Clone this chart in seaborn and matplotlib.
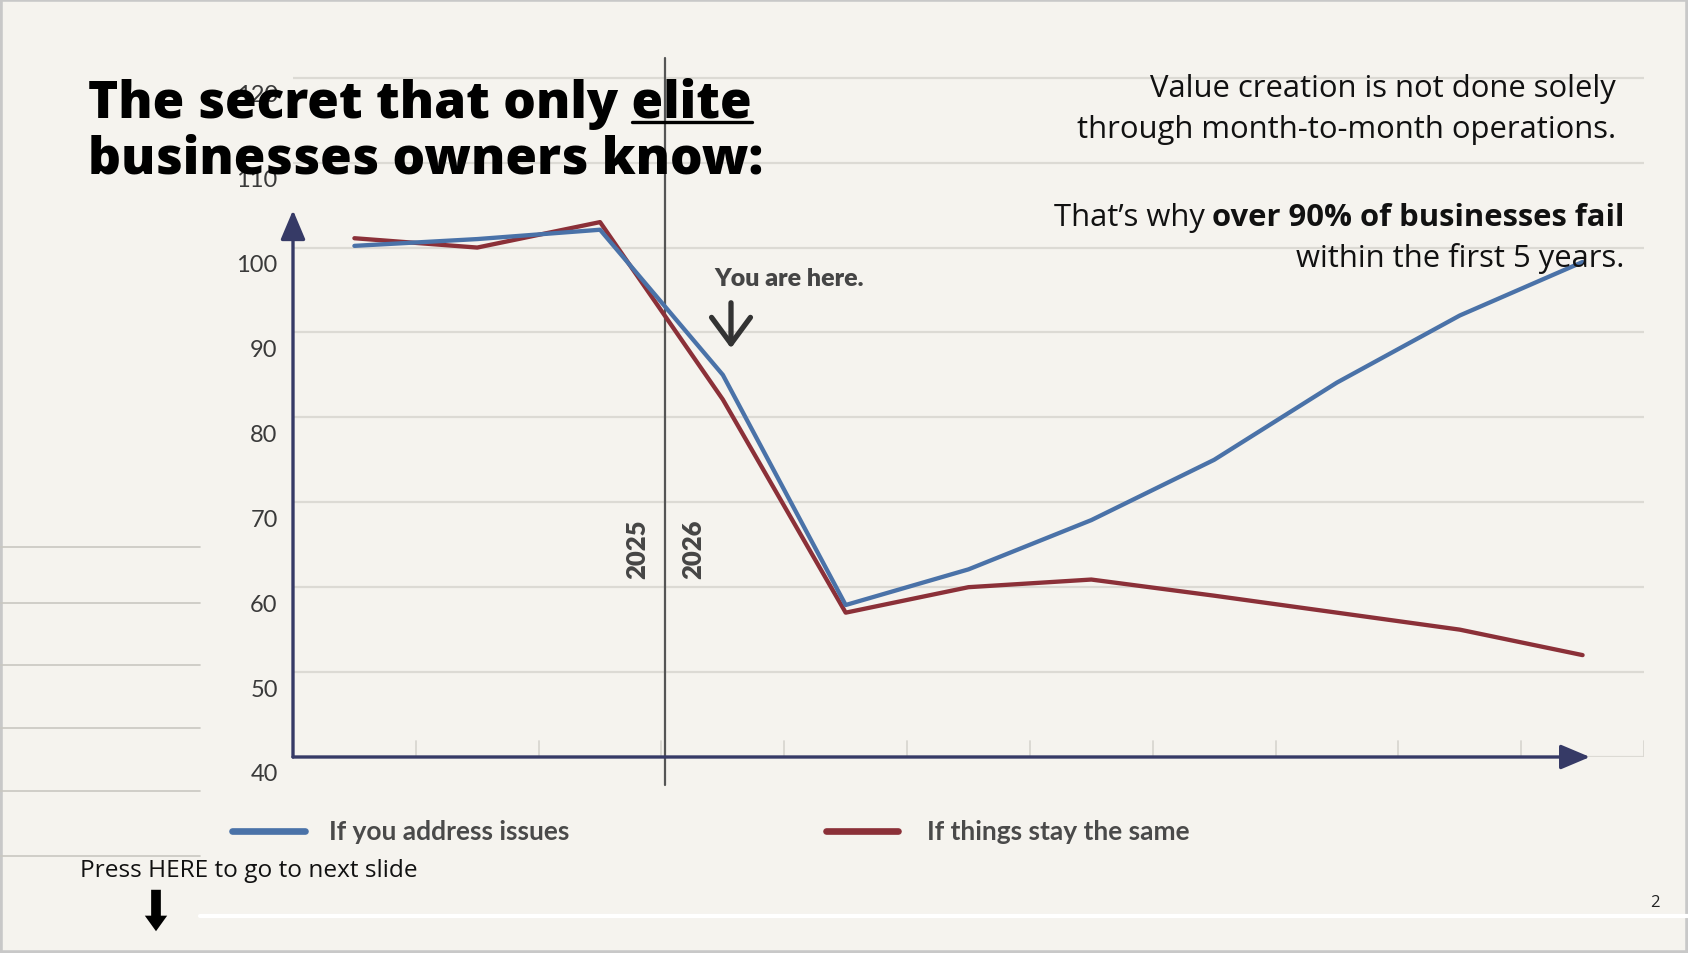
import matplotlib
matplotlib.use("Agg")
import matplotlib.pyplot as plt
from matplotlib.lines import Line2D
from matplotlib.patches import Rectangle, FancyArrowPatch
from matplotlib.transforms import ScaledTranslation
import pandas as pd
import seaborn as sns

# %% data
periods = list(range(11))
address_issues = [100.2, 101.0, 102.1, 85.0, 57.9, 62.1, 67.9, 75.0, 84.1, 92.0, 98.3]
stay_same = [101.1, 100.0, 103.0, 82.1, 57.0, 60.0, 60.9, 59.0, 57.0, 55.0, 52.0]
series_names = ["If you address issues", "If things stay the same"]
series_colors = ["#4a72a8", "#8b3038"]
y_ticks = [40, 50, 60, 70, 80, 90, 100, 110, 120]
year_labels = ["2025", "2026"]

df = pd.DataFrame({
    "period": periods * 2,
    "value": address_issues + stay_same,
    "scenario": [series_names[0]] * len(periods) + [series_names[1]] * len(periods),
})
df["x"] = df["period"] + 0.5

# %% figure
W, H = 1688, 954
BG = "#f5f3ee"
NAVY = "#363a66"

def fx(px):
    return px / W

def fy(py):
    return 1 - py / H

sns.set_style("white")
plt.rcParams["font.family"] = ["Lato", "DejaVu Sans"]

fig = plt.figure(figsize=(W / 100, H / 100), dpi=100, facecolor=BG)
ax = fig.add_axes([fx(293), fy(758), fx(1644) - fx(293), fy(36.3) - fy(758)])
ax.set_facecolor(BG)
ax.set_xlim(0, 11)
ax.set_ylim(40, 125)

# grid lines
for v in y_ticks[1:]:
    ax.axhline(v, color="#dcdad4", lw=1.6, zorder=0)
ax.axhline(40, color="#dcdad4", lw=1.6, zorder=0)
for b in range(1, 12):
    ax.plot([b, b], [40, 41.9], color="#d9d7d1", lw=1.3, zorder=0)

sns.lineplot(data=df, x="x", y="value", hue="scenario", hue_order=series_names[::-1],
             palette=dict(zip(series_names, series_colors)), linewidth=3.1,
             legend=False, ax=ax, zorder=3)

# axes with arrows
ax.annotate("", xy=(10.56, 40), xytext=(0, 40),
            arrowprops=dict(arrowstyle="-|>,head_length=0.9,head_width=0.38", color=NAVY,
                            lw=2.4, mutation_scale=20, shrinkA=0, shrinkB=0), zorder=4)
ax.annotate("", xy=(0, 104.4), xytext=(0, 40),
            arrowprops=dict(arrowstyle="-|>,head_length=0.9,head_width=0.38", color=NAVY,
                            lw=2.4, mutation_scale=20, shrinkA=0, shrinkB=0), zorder=4)

# year divider
ax.plot([3.03, 3.03], [36.7, 122.3], color="#555555", lw=1.6, clip_on=False, zorder=2)
ax.text(2.8, 64.6, year_labels[0], rotation=90, ha="center", va="center",
        fontsize=18.5, fontweight="heavy", color="#454545")
ax.text(3.26, 64.6, year_labels[1], rotation=90, ha="center", va="center",
        fontsize=18.5, fontweight="heavy", color="#454545")

ax.set_xticks([])
ax.set_yticks(y_ticks)
ax.set_yticklabels([str(t) for t in y_ticks])
ax.tick_params(axis="y", length=0, pad=11, labelsize=17, labelcolor="#3a3a3a")
for lbl in ax.get_yticklabels():
    lbl.set_transform(lbl.get_transform() + ScaledTranslation(0, -0.15, fig.dpi_scale_trans))
ax.set_xlabel("")
ax.set_ylabel("")
for s in ax.spines.values():
    s.set_visible(False)

# "you are here" marker
fig.text(fx(714), fy(279), "You are here.", fontsize=18, fontweight="heavy",
         color="#454545", ha="left", va="center")
fig.add_artist(FancyArrowPatch((fx(731), fy(301)), (fx(731), fy(352)), transform=fig.transFigure,
                               arrowstyle="->,head_length=0.95,head_width=0.7",
                               mutation_scale=20, lw=3.8, color="#333333"))

# legend drawn by hand under the plot
for (x0, x1, xt), name, col in zip([(232, 305, 329), (826, 898, 927)], series_names, series_colors):
    fig.add_artist(Line2D([fx(x0), fx(x1)], [fy(832)] * 2, color=col, lw=4.8,
                          solid_capstyle="round"))
    fig.text(fx(xt), fy(832), name, fontsize=19, fontweight="bold", color="#4a4a4a",
             ha="left", va="center")

# slide furniture
body = ["Open Sans", "DejaVu Sans"]
for py in [548, 604, 666, 729, 792, 857]:
    fig.add_artist(Line2D([0, fx(200)], [fy(py)] * 2, color="#c9c7c1", lw=1.2))
fig.add_artist(Line2D([fx(200), 1], [fy(917)] * 2, color="white", lw=3))
fig.add_artist(Rectangle((0, 0), 1, 1, transform=fig.transFigure, fill=False,
                         ec="#c8c8c8", lw=4))
fig.text(fx(1655), fy(903), "2", fontsize=12, ha="center", va="center", color="#222222",
         family=body)
fig.text(fx(80), fy(871), "Press HERE to go to next slide", fontsize=17.6, color="#111111",
         family=body, ha="left", va="center")
fig.add_artist(FancyArrowPatch((fx(156), fy(888)), (fx(156), fy(935)), transform=fig.transFigure,
                               arrowstyle="simple,head_width=1.15,head_length=0.8,tail_width=0.5",
                               mutation_scale=14, color="black", lw=0))

# title with underlined "elite"
renderer = fig.canvas.get_renderer()
title_kw = dict(fontsize=37, fontweight="heavy", family=["Open Sans", "DejaVu Sans"],
                color="black", ha="left", va="baseline")
t1 = fig.text(fx(88), fy(118), "The secret that only elite", **title_kw)
fig.text(fx(88), fy(173), "businesses owners know:", **title_kw)
probe = fig.text(0, 0, "elite", **title_kw)
w_elite = probe.get_window_extent(renderer).width
probe.remove()
r = t1.get_window_extent(renderer).x1
fig.add_artist(Line2D([(r - w_elite) / W, r / W], [fy(123)] * 2, color="black", lw=2.4))

# right-hand copy
fs = 22.3
fig.text(fx(1616), fy(97), "Value creation is not done solely", fontsize=fs, family=body,
         ha="right", va="baseline", color="#111111")
fig.text(fx(1616), fy(138), "through month-to-month operations.", fontsize=fs, family=body,
         ha="right", va="baseline", color="#111111")
b = fig.text(fx(1624), fy(226), "over 90% of businesses fail", fontsize=fs, family=body,
             fontweight="bold", ha="right", va="baseline", color="#111111")
bx = b.get_window_extent(renderer).x0
fig.text((bx - 7) / W, fy(226), "That\u2019s why", fontsize=fs, family=body,
         ha="right", va="baseline", color="#111111")
fig.text(fx(1624), fy(267), "within the first 5 years.", fontsize=fs, family=body,
         ha="right", va="baseline", color="#111111")

fig.savefig("out.png", dpi=100, facecolor=BG)
